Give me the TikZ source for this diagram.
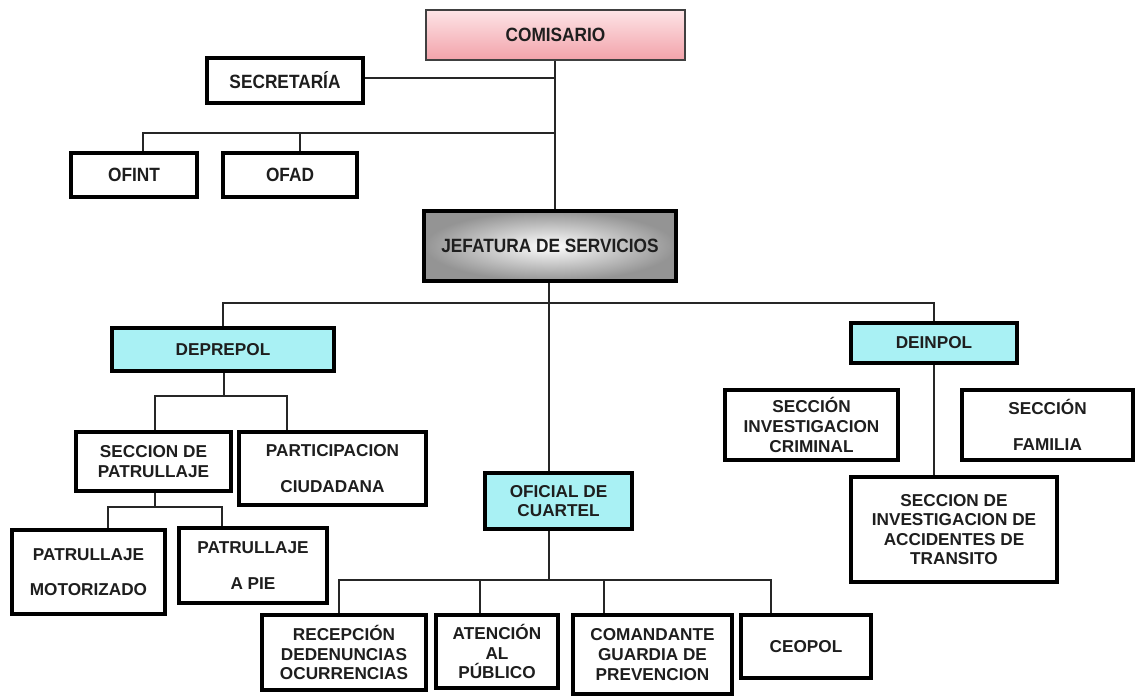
\documentclass[tikz,border=0pt]{standalone}
\usepackage{fontspec}
\setmainfont{Liberation Sans}
\newfontfamily\narrowf{Liberation Sans}[FakeStretch=0.9]
\definecolor{pinktop}{HTML}{FDE4E6}
\definecolor{pinkbot}{HTML}{F2A2AA}
\definecolor{cyanfill}{HTML}{A9F1F4}
\definecolor{txt}{HTML}{1E1E1E}
\begin{document}
\begin{tikzpicture}[x=0.5pt,y=-0.5pt,
  conn/.style={draw=black!85,line width=1pt},
  box/.style={draw=black,line width=1.8pt,fill=white,align=center,inner sep=0pt,
    font=\bfseries\fontsize{8.6}{9.8}\selectfont,text=txt},
  topbox/.style={box,font=\narrowf\bfseries\fontsize{9.6}{11}\selectfont},
  cyanbox/.style={box,fill=cyanfill}]
\useasboundingbox (0,0) rectangle (1143,695);
\fill[white] (0,0) rectangle (1143,695);

% top part
\node[topbox,draw=black!75,line width=1pt,top color=pinktop,bottom color=pinkbot,
  minimum width=129.5pt,minimum height=25pt] (comisario) at (555.5,35) {COMISARIO};
\node[topbox,minimum width=78pt,minimum height=22.5pt] (secretaria) at (285,80.5) {SECRETARÍA};
\node[topbox,minimum width=63pt,minimum height=22pt] (ofint) at (134,175) {OFINT};
\node[topbox,minimum width=67pt,minimum height=22pt] (ofad) at (290,175) {OFAD};
\node[topbox,line width=2.2pt,inner color=white,outer color=black!42,
  minimum width=126pt,minimum height=35pt] (jefatura) at (550,246) {JEFATURA DE SERVICIOS};

% second level
\node[cyanbox,minimum width=111pt,minimum height=21.5pt] (deprepol) at (223,349.5) {DEPREPOL};
\node[cyanbox,minimum width=83pt,minimum height=20pt] (deinpol) at (934,343) {DEINPOL};
\node[cyanbox,minimum width=73.5pt,minimum height=28pt] (oficial) at (558.5,501) {OFICIAL DE\\CUARTEL};

% deprepol branch
\node[box,minimum width=77.5pt,minimum height=29.5pt] (seccpat) at (153.5,461.5) {SECCION DE\\PATRULLAJE};
\node[box,minimum width=93.5pt,minimum height=36.5pt] (partic) at (332.5,468.5) {PARTICIPACION\\[8pt]CIUDADANA};
\node[box,minimum width=76.5pt,minimum height=42pt] (motor) at (88.5,572) {PATRULLAJE\\[8pt]MOTORIZADO};
\node[box,minimum width=74pt,minimum height=37.5pt] (apie) at (253,565.5) {PATRULLAJE\\[8pt]A PIE};

% oficial branch
\node[box,minimum width=82pt,minimum height=37.5pt] (recep) at (344,652.5) {RECEPCIÓN\\DEDENUNCIAS\\OCURRENCIAS};
\node[box,minimum width=61pt,minimum height=36.5pt] (atenc) at (497,651.5) {ATENCIÓN\\AL\\PÚBLICO};
\node[box,minimum width=79.5pt,minimum height=39.5pt] (comand) at (652.5,654.5) {COMANDANTE\\GUARDIA DE\\PREVENCION};
\node[box,minimum width=65pt,minimum height=31.5pt] (ceopol) at (806,646.5) {CEOPOL};

% deinpol branch
\node[box,minimum width=86.5pt,minimum height=35pt] (crim) at (811.5,425) {SECCIÓN\\INVESTIGACION\\CRIMINAL};
\node[box,minimum width=85.5pt,minimum height=35pt] (famil) at (1047.5,425) {SECCIÓN\\[8pt]FAMILIA};
\node[box,minimum width=103pt,minimum height=52.5pt] (accid) at (954,529.5) {SECCION DE\\INVESTIGACION DE\\ACCIDENTES DE\\TRANSITO};

% bus coordinates
\coordinate (ax) at (555,0);
\coordinate (busA) at (555,133);
\coordinate (dOfint) at (143,133);
\coordinate (dOfad) at (300,133);
\coordinate (busB) at (549,303);
\coordinate (busC) at (549,580);
\coordinate (busD) at (224,396);
\coordinate (dPart) at (287,396);
\coordinate (busE) at (155,507);
\coordinate (dMot) at (108,507);
\coordinate (dPie) at (222,507);
\coordinate (d1) at (339,580);
\coordinate (d2) at (480,580);
\coordinate (d3) at (604,580);
\coordinate (d4) at (771,580);
\coordinate (dAcc) at (934,0);

% connectors
\draw[conn] (comisario.south -| ax) -- (jefatura.north -| ax);
\draw[conn] (secretaria.east |- 0,78) -- (ax |- 0,78);
\draw[conn] (dOfint |- ofint.north) -- (dOfint) -- (busA);
\draw[conn] (dOfad |- ofad.north) -- (dOfad);
\draw[conn] (jefatura.south -| busB) -- (oficial.north -| busB);
\draw[conn] (oficial.south -| busC) -- (busC);
\draw[conn] (deprepol.north) -- (deprepol.north |- busB) -- (deinpol.north |- busB) -- (deinpol.north);
\draw[conn] (deprepol.south -| busD) -- (busD);
\draw[conn] (seccpat.north -| busE) |- (dPart) -- (dPart |- partic.north);
\draw[conn] (seccpat.south -| busE) -- (busE);
\draw[conn] (dMot |- motor.north) -- (dMot) -- (dPie) -- (dPie |- apie.north);
\draw[conn] (d1 |- recep.north) -- (d1) -- (d4) -- (d4 |- ceopol.north);
\draw[conn] (d2) -- (d2 |- atenc.north);
\draw[conn] (d3) -- (d3 |- comand.north);
\draw[conn] (deinpol.south -| dAcc) -- (accid.north -| dAcc);
\end{tikzpicture}
\end{document}
